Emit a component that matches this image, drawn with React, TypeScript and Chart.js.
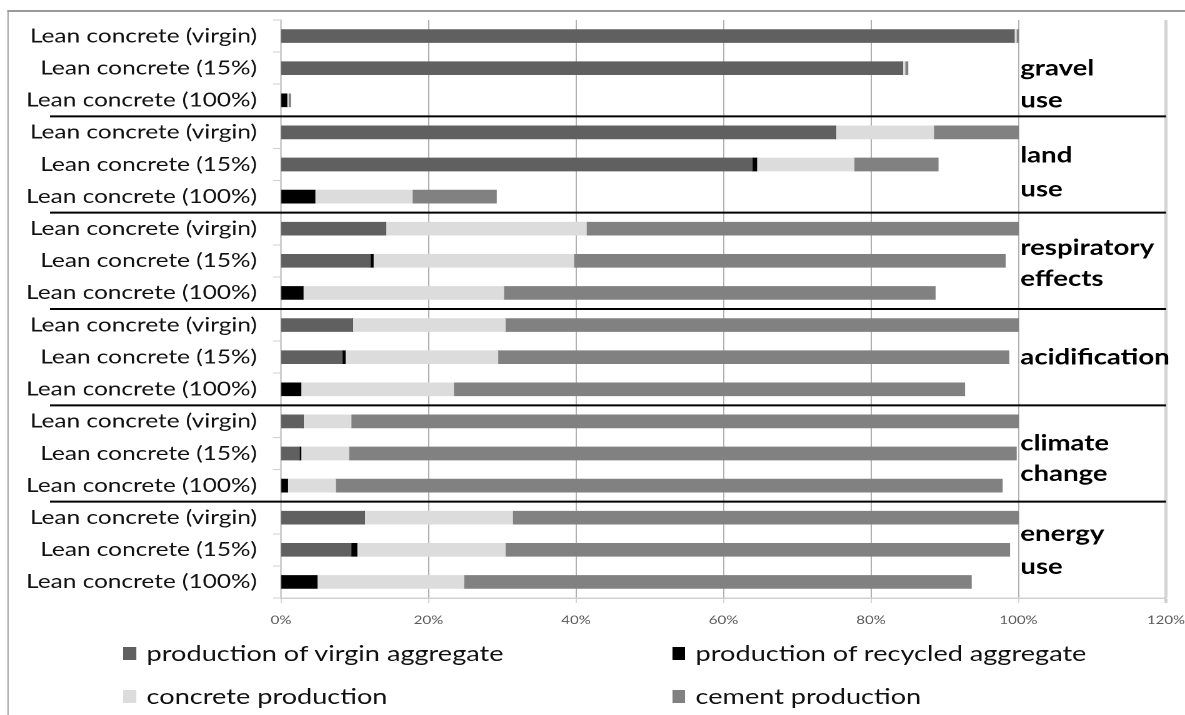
import { useEffect, useRef } from "react";
import { Chart, registerables } from "chart.js";

Chart.register(...registerables);

// rows, top to bottom
const categories = [
  "Lean concrete (virgin)", "Lean concrete (15%)", "Lean concrete (100%)",
  "Lean concrete (virgin)", "Lean concrete (15%)", "Lean concrete (100%)",
  "Lean concrete (virgin)", "Lean concrete (15%)", "Lean concrete (100%)",
  "Lean concrete (virgin)", "Lean concrete (15%)", "Lean concrete (100%)",
  "Lean concrete (virgin)", "Lean concrete (15%)", "Lean concrete (100%)",
  "Lean concrete (virgin)", "Lean concrete (15%)", "Lean concrete (100%)",
];

const groupNames = [
  ["gravel", "use"],
  ["land", "use"],
  ["respiratory", "effects"],
  ["acidification"],
  ["climate", "change"],
  ["energy", "use"],
];

const seriesNames = [
  "production of virgin aggregate",
  "production of recycled aggregate",
  "concrete production",
  "cement production",
];

const virginAggregate = [99.4, 84.3, 0, 75.2, 63.9, 0, 14.2, 12.1, 0, 9.7, 8.3, 0, 3.0, 2.5, 0, 11.3, 9.5, 0];
const recycledAggregate = [0, 0, 0.8, 0, 0.6, 4.6, 0, 0.4, 3.0, 0, 0.4, 2.7, 0, 0.2, 0.9, 0, 0.8, 4.9];
const concreteProduction = [0.3, 0.3, 0.2, 13.3, 13.2, 13.2, 27.2, 27.2, 27.2, 20.7, 20.7, 20.7, 6.5, 6.5, 6.5, 20.1, 20.1, 19.9];
const cementProduction = [0.3, 0.4, 0.3, 11.5, 11.4, 11.4, 58.6, 58.5, 58.5, 69.6, 69.3, 69.3, 90.5, 90.5, 90.4, 68.6, 68.4, 68.8];

const xTicks = [0, 20, 40, 60, 80, 100, 120];

const seriesColors = ["#606060", "#000000", "#dcdcdc", "#818181"];

// where each line of the group name sits, in row units
const groupLabelRows = [[1, 2], [3.72, 4.78], [6.6, 7.57], [10], [12.68, 13.64], [15.51, 16.53]];

// the source figure is stretched sideways, so the whole thing is drawn
// narrower and widened with a transform
const STRETCH = 1.25;
const W = 1185 / STRETCH;
const H = 715;

const FONT = "Lato, 'Open Sans', sans-serif";

const groupPlugin = {
  id: "groupLabels",
  afterDraw(chart: any) {
    const { ctx, scales } = chart;
    const x = scales.x;
    const y = scales.y;
    const right = x.getPixelForValue(120);
    ctx.save();
    ctx.strokeStyle = "#000";
    ctx.lineWidth = 2;
    for (let g = 1; g < groupNames.length; g++) {
      const yy = y.getPixelForValue(g * 3 - 0.5);
      ctx.beginPath();
      ctx.moveTo(40, yy);
      ctx.lineTo(right, yy);
      ctx.stroke();
    }
    ctx.fillStyle = "#000";
    ctx.font = `bold 22px ${FONT}`;
    ctx.textBaseline = "middle";
    ctx.textAlign = "left";
    const lx = x.getPixelForValue(100) + 1.5;
    groupNames.forEach((lines, g) => {
      lines.forEach((line, i) => {
        ctx.fillText(line, lx, y.getPixelForValue(groupLabelRows[g][i]));
      });
    });
    ctx.restore();
  },
};

export default function App() {
  const canvasRef = useRef<HTMLCanvasElement>(null);

  useEffect(() => {
    const ctx = canvasRef.current?.getContext("2d");
    if (!ctx) return;

    const values = [virginAggregate, recycledAggregate, concreteProduction, cementProduction];

    const chart = new Chart(ctx, {
      type: "bar",
      data: {
        labels: categories,
        datasets: values.map((data, i) => ({
          label: seriesNames[i],
          data,
          backgroundColor: seriesColors[i],
          borderWidth: 0,
          barThickness: 13,
        })),
      },
      options: {
        indexAxis: "y",
        responsive: false,
        animation: false,
        devicePixelRatio: 2,
        layout: { padding: { top: 20, right: 1185 / STRETCH - 1166 / STRETCH, bottom: 87, left: 0 } },
        plugins: {
          legend: { display: false },
          tooltip: { enabled: false },
        },
        scales: {
          x: {
            stacked: true,
            min: 0,
            max: 120,
            afterBuildTicks: (scale: any) => {
              scale.ticks = xTicks.map((v) => ({ value: v }));
            },
            afterFit: (scale: any) => {
              scale.height = 30;
              scale.paddingLeft = 0;
              scale.paddingRight = 0;
            },
            border: { color: "#d0d0d0", width: 1.5 },
            grid: {
              color: (c: any) => (c.tick && c.tick.value === 120 ? "#d4d4d4" : "#a8a8a8"),
              lineWidth: (c: any) => (c.tick && c.tick.value === 120 ? 2.5 : 0.9),
              tickLength: 5,
              tickColor: "#d0d0d0",
            },
            ticks: {
              color: "#5a5a5a",
              font: { family: FONT, size: 12 },
              padding: 10,
              maxRotation: 0,
              callback: (v: any) => `${v}%`,
            },
          },
          y: {
            stacked: true,
            afterFit: (scale: any) => {
              scale.width = 281 / STRETCH;
              scale.paddingTop = 0;
              scale.paddingBottom = 0;
            },
            border: { color: "#cfcfcf", width: 1.5 },
            grid: {
              drawOnChartArea: false,
              drawTicks: true,
              tickLength: 6.4,
              color: "#cfcfcf",
              offset: true,
            },
            ticks: {
              color: "#111",
              font: { family: FONT, size: 19.5 },
              padding: 12.8,
              autoSkip: false,
            },
          },
        },
      },
      plugins: [groupPlugin],
    });

    return () => chart.destroy();
  }, []);

  const legendPos = [
    { left: 98.4, top: 654 },
    { left: 537.6, top: 654 },
    { left: 98.4, top: 697 },
    { left: 537.6, top: 697 },
  ];

  return (
    <div
      style={{
        position: "absolute",
        left: 0,
        top: 0,
        width: 1185,
        height: 715,
        overflow: "hidden",
        background: "#fff",
      }}
    >
      <div
        style={{
          position: "absolute",
          left: 0,
          top: 0,
          width: W,
          height: H,
          transform: `scaleX(${STRETCH})`,
          transformOrigin: "0 0",
          fontFamily: FONT,
        }}
      >
        <div
          style={{
            position: "absolute",
            left: 6.4,
            top: 10,
            width: 1200,
            height: 800,
            borderLeft: "1.6px solid #9a9a9a",
            borderTop: "2px solid #9a9a9a",
          }}
        />
        <canvas
          ref={canvasRef}
          width={W}
          height={H}
          style={{ position: "absolute", left: 0, top: 0, width: W, height: H }}
        />
        {seriesNames.map((name, i) => (
          <div
            key={name}
            style={{
              position: "absolute",
              left: legendPos[i].left,
              top: legendPos[i].top - 16,
              height: 30,
              display: "flex",
              alignItems: "center",
              fontSize: 21.7,
              color: "#111",
              lineHeight: "30px",
              whiteSpace: "nowrap",
            }}
          >
            <span
              style={{
                display: "inline-block",
                width: 10.4,
                height: 13,
                background: seriesColors[i],
                marginRight: 8.5,
              }}
            />
            {name}
          </div>
        ))}
      </div>
    </div>
  );
}
